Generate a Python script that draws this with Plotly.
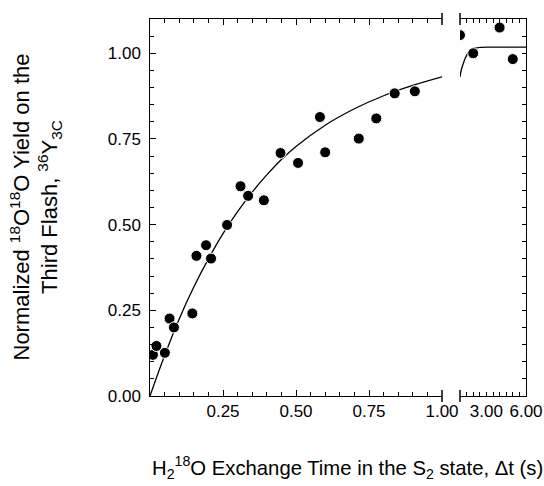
import plotly.graph_objects as go

# ---- data ----
# measured points, short-time segment (0-1 s)
t_short = [0.010, 0.022, 0.051, 0.067, 0.082, 0.145, 0.159, 0.192, 0.209, 0.264,
           0.310, 0.336, 0.390, 0.447, 0.507, 0.582, 0.600, 0.715, 0.775, 0.838, 0.907]
y_short = [0.120, 0.146, 0.126, 0.226, 0.200, 0.241, 0.409, 0.440, 0.401, 0.499,
           0.612, 0.584, 0.571, 0.709, 0.680, 0.814, 0.711, 0.751, 0.810, 0.883, 0.889]
# measured points, long-time segment (1-6 s)
t_long = [1.0, 2.0, 4.0, 5.0]
y_long = [1.053, 1.000, 1.075, 0.983]

# fitted curve samples
fit_t_short = [0.00, 0.05, 0.10, 0.15, 0.20, 0.25, 0.30, 0.35, 0.40, 0.45, 0.50,
               0.60, 0.70, 0.80, 0.90, 1.00]
fit_y_short = [0.000, 0.118, 0.225, 0.318, 0.400, 0.474, 0.538, 0.595, 0.645, 0.690, 0.728,
               0.790, 0.838, 0.876, 0.906, 0.931]
fit_t_long = [1.00, 1.10, 1.25, 1.40, 1.50, 1.75, 2.00, 2.50, 3.00, 4.00, 5.00, 6.00]
fit_y_long = [0.931, 0.952, 0.970, 0.986, 0.994, 1.008, 1.014, 1.017, 1.018, 1.018, 1.018, 1.018]

# axis ticks
x1_tickvals = [0.25, 0.50, 0.75, 1.00]
x1_ticktext = ["0.25", "0.50", "0.75", "1.00"]
x2_tickvals = [3.0, 6.0]
x2_ticktext = ["3.00", "6.00"]
y_tickvals = [0.0, 0.25, 0.50, 0.75, 1.00]
y_ticktext = ["0.00\u00a0", "0.25\u00a0", "0.50\u00a0", "0.75\u00a0", "1.00\u00a0"]

FONT = "Liberation Sans, Arial, sans-serif"
BLACK = "black"

plot_w = 544 - 150 - 18
d1 = 292.0 / plot_w
d2 = (460.0 - 150.0) / plot_w

fig = go.Figure()

marker = dict(size=11, color=BLACK, line=dict(color="white", width=1))
line = dict(color=BLACK, width=1.3)

fig.add_trace(go.Scatter(x=fit_t_short, y=fit_y_short, mode="lines", line=dict(line, shape="spline"),
                         xaxis="x", yaxis="y", hoverinfo="skip"))
fig.add_trace(go.Scatter(x=t_short, y=y_short, mode="markers", marker=marker,
                         xaxis="x", yaxis="y"))
fig.add_trace(go.Scatter(x=fit_t_long, y=fit_y_long, mode="lines", line=dict(line, shape="spline"),
                         xaxis="x2", yaxis="y2", hoverinfo="skip"))
fig.add_trace(go.Scatter(x=t_long, y=y_long, mode="markers", marker=marker,
                         xaxis="x2", yaxis="y2"))

tickfont = dict(family=FONT, size=17, color=BLACK)
minor_common = dict(ticklen=4, ticks="inside", tickcolor=BLACK, tickwidth=1)


def axis(**kw):
    base = dict(showline=True, linecolor=BLACK, linewidth=1, showgrid=False, zeroline=False,
                automargin=False,
                ticks="inside", tickcolor=BLACK, tickwidth=1, tickfont=tickfont, tickmode="array")
    base.update(kw)
    return base


fig.update_layout(
    width=544, height=486, autosize=False,
    margin=dict(l=150, r=18, t=19, b=90, pad=0),
    paper_bgcolor="white", plot_bgcolor="white",
    showlegend=False,
    xaxis=axis(domain=[0, d1], range=[0, 1.0], anchor="y", mirror="ticks",
               tickvals=x1_tickvals, ticktext=x1_ticktext, ticklen=6,
               minor=dict(minor_common, dtick=0.05, tick0=0)),
    xaxis2=axis(domain=[d2, 1], range=[1.0, 6.0], anchor="y2", mirror="ticks",
                tickvals=x2_tickvals, ticktext=x2_ticktext, ticklen=4,
                minor=dict(minor_common, dtick=0.5, tick0=0)),
    yaxis=axis(domain=[0, 1], range=[0, 1.10], anchor="x",
               tickvals=y_tickvals, ticktext=y_ticktext, ticklen=6,
               minor=dict(minor_common, dtick=0.05, tick0=0)),
    yaxis2=axis(domain=[0, 1], range=[0, 1.10], anchor="x2", side="right",
                showticklabels=False, tickvals=y_tickvals, ticklen=4,
                minor=dict(minor_common, dtick=0.05, tick0=0)),
)

# axis-break markers
h = 6.0 / 377.0
for xb in (d1, d2):
    for yb in (0.0, 1.0):
        fig.add_shape(type="line", xref="paper", yref="paper", x0=xb, x1=xb, y0=yb - h, y1=yb + h,
                      line=dict(color=BLACK, width=1.5))

# axis titles
fig.add_annotation(text="H<sub>2</sub><sup>18</sup>O Exchange Time in the S<sub>2</sub> state, \u0394t (s)",
                   xref="paper", yref="paper", x=(347 - 150) / plot_w, y=-(467 - 396) / 377.0,
                   xanchor="center", yanchor="middle", showarrow=False,
                   font=dict(family=FONT, size=20.3, color=BLACK))
fig.add_annotation(text="Normalized <sup>18</sup>O<sup>18</sup>O Yield on the<br>Third Flash, <sup>36</sup>Y<sub>3C</sub>",
                   xref="paper", yref="paper", x=(35 - 150) / plot_w, y=0.5,
                   xanchor="center", yanchor="middle", showarrow=False, textangle=-90,
                   font=dict(family=FONT, size=22, color=BLACK))

# force a final repaint after the plot has been drawn (empty, invisible element)
repaint = """
var d = document.createElement('div');
d.style.cssText = 'position:absolute;left:0;top:0;width:0;height:0;overflow:hidden;';
document.body.appendChild(d);
"""

fig.write_html("out.html", post_script=[repaint])
